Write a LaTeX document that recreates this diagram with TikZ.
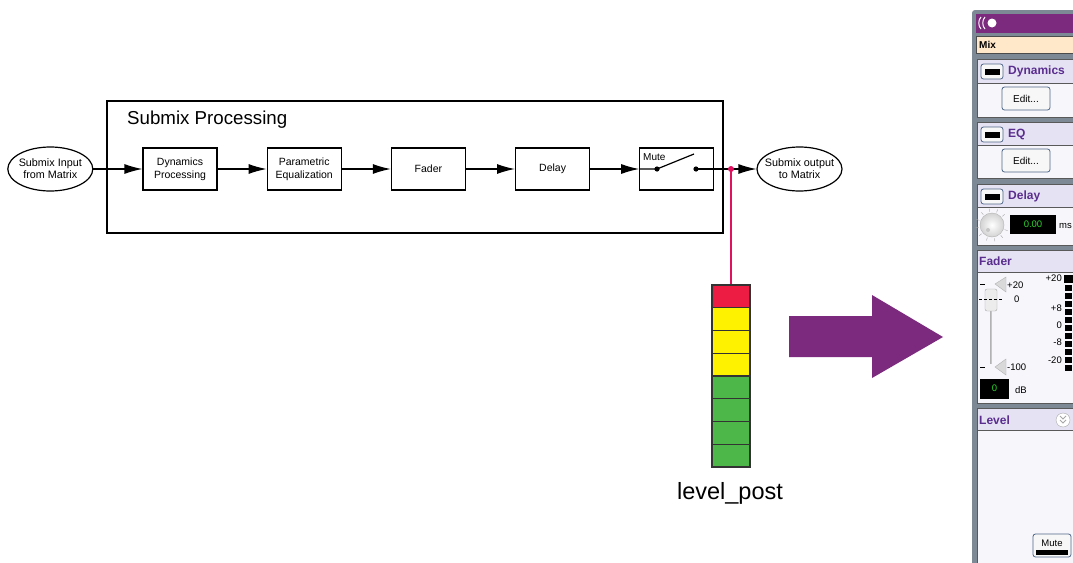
\documentclass[tikz,border=0pt]{standalone}
\usepackage{fontspec}
\setmainfont{Liberation Sans}
\usepackage{xcolor}
\usepackage{tikz}
\usetikzlibrary{arrows.meta,positioning,shapes.geometric}

\definecolor{meterred}{HTML}{ED1C42}
\definecolor{meteryellow}{HTML}{FFF200}
\definecolor{metergreen}{HTML}{4DB849}
\definecolor{tapred}{HTML}{E0115F}
\definecolor{mixpurple}{HTML}{7B2A7D}
\definecolor{panelgray}{HTML}{7E8996}
\definecolor{headlav}{HTML}{E5E3F3}
\definecolor{bodywhite}{HTML}{F6F6FB}
\definecolor{titlepurple}{HTML}{5A2D8F}
\definecolor{mixpeach}{HTML}{FFE8C9}
\definecolor{btnblue}{HTML}{50688A}
\definecolor{ledgreen}{HTML}{2BD52B}

\begin{document}
\begin{tikzpicture}[x=1pt,y=-1pt,
    proc/.style={draw, line width=1.2pt, minimum width=74pt, minimum height=42pt, inner sep=1pt, align=center, font=\fontsize{10.5}{13}\selectfont},
    port/.style={draw, line width=1.2pt, ellipse, minimum width=85pt, minimum height=44pt, inner xsep=-4.5pt, inner ysep=2pt, align=center, font=\fontsize{10.8}{12}\selectfont},
    sig/.style={line width=1.2pt, -{Latex[length=18pt,width=10pt]}},
    cell/.style={draw=black!80, line width=1.3pt, minimum width=38pt, minimum height=22.75pt, inner sep=0pt},
    head/.style={anchor=west, text=titlepurple, font=\bfseries\fontsize{12}{12}\selectfont, inner sep=0pt},
    btn/.style={draw=btnblue, fill=gray!6, rounded corners=2.5pt, line width=0.8pt},
    small/.style={font=\fontsize{9.5}{10}\selectfont, inner sep=0pt}
]
\useasboundingbox (0,0) rectangle (1073,562);

% processing chain
\node[draw, line width=1.2pt, minimum width=616pt, minimum height=132pt, inner sep=0pt] (sub) at (415,167) {};
\node[anchor=west, inner sep=0pt, font=\fontsize{18.7}{20}\selectfont] (subtitle) at (127,120) {Submix Processing};

\node[proc] (dyn) at (180,169) {Dynamics\\Processing};
\node[proc, right=49pt of dyn] (peq) {Parametric\\Equalization};
\node[proc, right=49pt of peq] (fader) {Fader};
\node[proc, right=49pt of fader] (delay) {Delay};
\node[proc, right=49pt of delay] (mute) {};
\node[anchor=west, inner sep=0pt, font=\fontsize{10}{11}\selectfont] (mutelbl) at (643,157) {Mute};
\node[port, left=49pt of dyn] (in) {Submix Input\\from Matrix};
\node[port, right=42pt of mute] (out) {Submix output\\to Matrix};

\draw[sig] (in) -- (dyn);
\draw[sig] (dyn) -- (peq);
\draw[sig] (peq) -- (fader);
\draw[sig] (fader) -- (delay);
\draw[sig] (delay) -- (mute);
\draw[sig] (mute) -- (out);

\coordinate (swa) at (657,169);
\coordinate (swb) at (696,169);
\coordinate (swt) at (694,154);
\draw[line width=1.2pt] (mute.west) -- (swa) -- (swt);
\draw[line width=1.2pt] (swb) -- (mute.east);
\fill (swa) circle (2.6pt);
\fill (swb) circle (2.6pt);

% level meter
\foreach \i/\c in {1/meterred,2/meteryellow,3/meteryellow,4/meteryellow,5/metergreen,6/metergreen,7/metergreen,8/metergreen}
  \node[cell, fill=\c] (cell\i) at (731,{285+22.75*(\i-0.5)}) {};
\coordinate (tap) at (731,169);
\draw[tapred, line width=1.2pt] (tap) -- (cell1.north);
\fill[tapred] (tap) circle (3pt);
\node[font=\fontsize{23.5}{24}\selectfont, inner sep=0pt] (levelpost) at (730,493) {level\_post};

% big arrow
\fill[mixpurple] (789,316) -- (872,316) -- (872,295) -- (943,337) -- (872,378) -- (872,357) -- (789,357) -- cycle;

% control panel
\fill[panelgray, rounded corners=3pt] (972,10) rectangle (1090,575);
\fill[mixpurple] (976,14) rectangle (1085,33);
\fill[white] (992,23) circle (4.5pt);
\draw[white, line width=1pt] (985,17) .. controls (982,20) and (982,26) .. (985,29);
\draw[white, line width=1pt] (981,17) .. controls (978,20) and (978,26) .. (981,29);
\draw[black!70, fill=mixpeach] (976,36) rectangle (1085,53);
\node[anchor=west, inner sep=0pt, font=\bfseries\fontsize{10}{10}\selectfont] (mix) at (979,44.5) {Mix};

\foreach \t/\h/\b in {59/83/117, 122/145/178, 184/207/245, 250/272/403, 408/430/570} {
  \draw[black!65, fill=bodywhite] (977,\t) rectangle (1085,\b);
  \draw[black!65, fill=headlav] (977,\t) rectangle (1085,\h);
}
\foreach \t/\n in {64/dyntog, 127/eqtog, 189/deltog} {
  \draw[btn] (981,\t) rectangle ++(22,15);
  \fill (984.5,\t+4.5) rectangle ++(15,6);
}
\node[head] (dynhead) at (1008,71.5) {Dynamics};
\node[head] (eqhead) at (1008,134) {EQ};
\node[head] (delhead) at (1008,196) {Delay};
\node[head] (fadhead) at (979,261.5) {Fader};
\node[head] (lvlhead) at (979,420) {Level};

\draw[btn] (1002,87) rectangle (1050,110);
\node[font=\fontsize{10}{10}\selectfont, inner sep=0pt] (dynedit) at (1026,99) {Edit...};
\draw[btn] (1002,149) rectangle (1050,172);
\node[font=\fontsize{10}{10}\selectfont, inner sep=0pt] (eqedit) at (1026,161) {Edit...};

% delay knob and display
\foreach \a in {20,50,...,340}
  \draw[gray!70] (992,225) ++(\a:13.5) -- ++(\a:3);
\shade[inner color=white, outer color=gray!35, draw=gray!60] (992,225) circle (12pt);
\fill[gray!45] (988,230) circle (2pt);
\fill (1010,215) rectangle (1056,234);
\node[text=ledgreen, small] (delval) at (1033,224.5) {0.00};
\node[small, anchor=west] (ms) at (1059,226) {ms};

% fader
\draw[gray!45, line width=2pt] (991,300) -- (991,364);
\draw[gray!60] (990,300) -- (990,364);
\fill[gray!30, draw=gray!60] (1006,277) -- (995,284) -- (1006,292) -- cycle;
\fill[gray!30, draw=gray!60] (1006,359) -- (995,367) -- (1006,375) -- cycle;
\draw (980,284) -- (985,284);
\draw (980,367) -- (985,367);
\draw[rounded corners=2pt, draw=gray!70, fill=gray!15] (985,289) rectangle (997,311);
\draw[line width=1.4pt, dash pattern=on 3pt off 2pt] (979,299.5) -- (1002,299.5);
\node[small, anchor=west] (ftop) at (1007,285) {+20};
\node[small, anchor=west] (fzero) at (1014,299) {0};
\node[small, anchor=west] (fbot) at (1007,367) {-100};
\foreach \v/\y in {+20/278, +8/308, 0/325, -8/342, -20/360}
  \node[small, anchor=east] (tick\y) at (1062,\y) {\v};
\fill (1064,275) rectangle (1073,283);
\foreach \k in {1,...,11}
  \fill (1065,{276.5+8*\k}) rectangle +(7,6.5);
\fill (980,379) rectangle (1009,399);
\node[text=ledgreen, small] (fadval) at (994.5,388.5) {0};
\node[small, anchor=west] (db) at (1015,390) {dB};

% level section
\draw[gray!70, fill=white] (1063,420) circle (7pt);
\draw[gray!70, line width=0.8pt] (1060,416) -- (1063,419) -- (1066,416) (1060,420) -- (1063,423) -- (1066,420);
\draw[btn] (1033,534) rectangle (1071,557);
\node[small] (mutebtn) at (1052,543) {Mute};
\fill (1036,550) rectangle (1068,555);
\end{tikzpicture}
\end{document}
